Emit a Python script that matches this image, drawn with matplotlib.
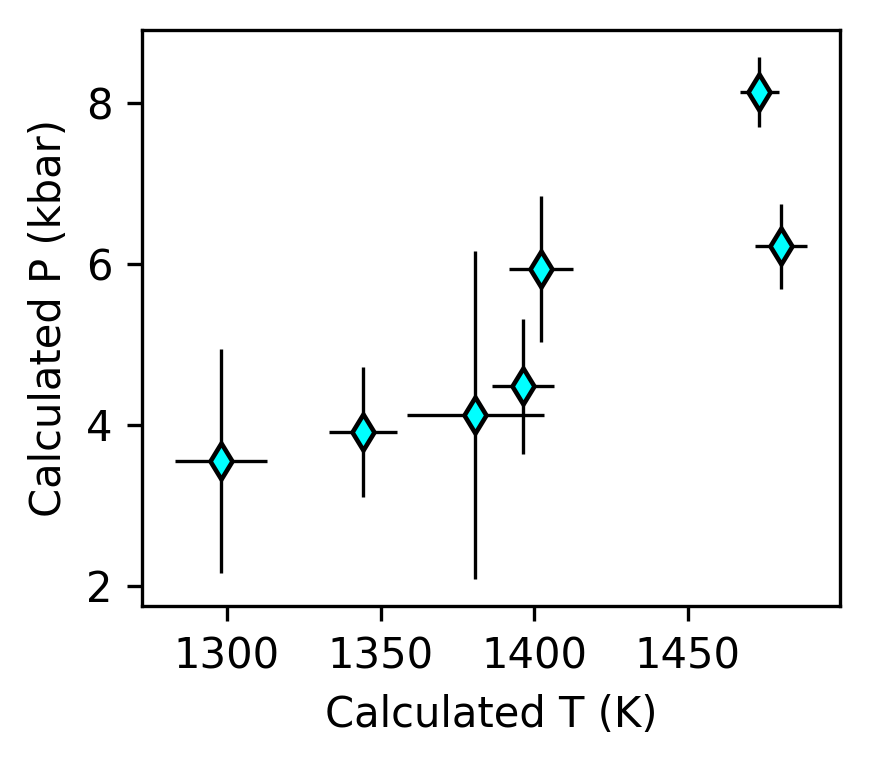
import matplotlib
matplotlib.use("Agg")
import matplotlib.pyplot as plt

T = [1298.1, 1344.3, 1380.8, 1396.4, 1402.3, 1473.2, 1480.3]
P = [3.55, 3.91, 4.12, 4.48, 5.94, 8.14, 6.22]
T_err = [15.0, 11.2, 22.3, 10.0, 10.4, 6.3, 8.6]
P_err = [1.39, 0.81, 2.04, 0.84, 0.91, 0.43, 0.53]

fig = plt.figure(figsize=(869/300, 763/300), dpi=300)
ax = fig.add_axes([142/869, 1-606/763, (840-142)/869, (606-30)/763])
ax.errorbar(T, P, xerr=T_err, yerr=P_err, fmt='d', color='black', ecolor='black',
            elinewidth=0.8, capsize=0, markerfacecolor='cyan', markeredgecolor='black',
            markersize=6, markeredgewidth=1.1)
ax.set_xlim(1272.4, 1499.5)
ax.set_ylim(1.75, 8.91)
ax.set_xticks([1300, 1350, 1400, 1450])
ax.set_yticks([2, 4, 6, 8])
ax.tick_params(labelsize=10)
ax.set_xlabel('Calculated T (K)', fontsize=10)
ax.set_ylabel('Calculated P (kbar)', fontsize=10)
fig.savefig('out.png', dpi=300)
